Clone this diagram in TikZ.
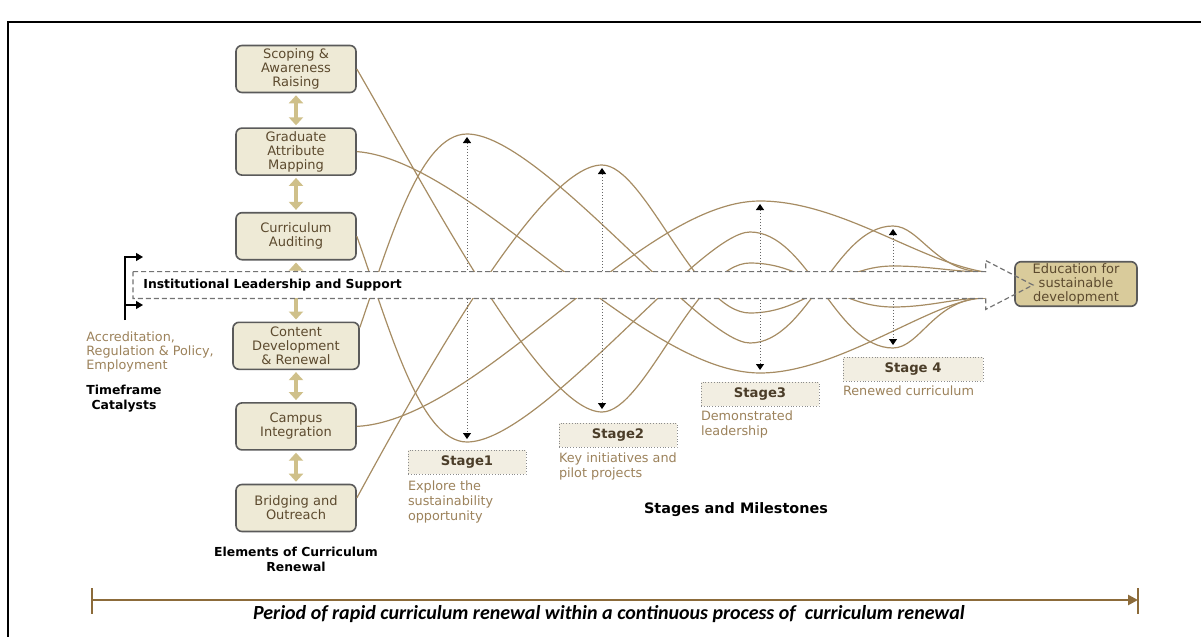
\documentclass[tikz,border=0pt]{standalone}
\usepackage{fontspec}
\setmainfont{DejaVu Sans}
\newfontfamily\capfont{Carlito}
\usetikzlibrary{positioning,arrows.meta}

\definecolor{boxfill}{HTML}{EEEAD6}
\definecolor{boxline}{HTML}{5A5A5A}
\definecolor{boxtext}{HTML}{5C4A2E}
\definecolor{wavecol}{HTML}{A68C63}
\definecolor{linkcol}{HTML}{CFC08A}
\definecolor{stagefill}{HTML}{F2EEE2}
\definecolor{stagetext}{HTML}{4B3D29}
\definecolor{captext}{HTML}{9C825B}
\definecolor{edufill}{HTML}{D9CB9B}
\definecolor{timecol}{HTML}{8C6B3A}

\begin{document}
\begin{tikzpicture}[x=0.5pt,y=-0.5pt,
elem/.style={draw=boxline,fill=boxfill,rounded corners=3pt,line width=0.8pt,
    minimum width=60pt,minimum height=23.5pt,align=center,inner sep=1pt,
    text=boxtext,font=\fontsize{6.5}{7}\selectfont},
link/.style={draw=linkcol,line width=2.4pt,shorten <=1pt,shorten >=1pt,
    {Triangle[width=7pt,length=4pt]}-{Triangle[width=7pt,length=4pt]}},
wave/.style={draw=wavecol,line width=0.6pt},
stagemark/.style={draw=black!60,densely dotted,line width=0.5pt,
    shorten <=1.5pt,shorten >=1.5pt,
    {Triangle[width=4pt,length=3pt,color=black]}-{Triangle[width=4pt,length=3pt,color=black]}},
stagebox/.style={draw=black!45,densely dotted,fill=stagefill,minimum width=59pt,
    minimum height=12pt,inner sep=1pt,text=stagetext,
    font=\bfseries\fontsize{6.6}{7}\selectfont},
bandline/.style={draw=black!55,dash pattern=on 2.5pt off 1.5pt,line width=0.6pt},
caption/.style={text=captext,align=left,inner sep=0pt,
    font=\fontsize{6.4}{7.3}\selectfont},
title/.style={align=center,inner sep=0pt,font=\bfseries\fontsize{6.2}{7.5}\selectfont},
catarrow/.style={draw=black,line width=0.6pt,-{Triangle[width=4pt,length=3.5pt]}},
timeline/.style={draw=timecol,line width=1.3pt,-{Triangle[width=5pt,length=5pt]}},
tick/.style={draw=timecol,line width=1pt}]

\useasboundingbox (0,0) rectangle (1201,637);
\draw[line width=1pt] (1201,22) -| (8,637);

% elements of curriculum renewal
\node (scop) [elem] at (296,69) {Scoping \&\\Awareness\\Raising};
\node (grad) [elem,below=17pt of scop] {Graduate\\Attribute\\Mapping};
\node (audit) [elem,below=18pt of grad] {Curriculum\\Auditing};
\node (cont) [elem,below=30.5pt of audit,minimum width=63pt] {Content\\Development\\\& Renewal};
\node (camp) [elem,below=16pt of cont] {Campus\\Integration};
\node (bridge) [elem,below=16.5pt of camp] {Bridging and\\Outreach};

\draw[link] (scop) -- (grad);
\draw[link] (grad) -- (audit);
\draw[link] (audit) -- (cont);
\draw[link] (cont) -- (camp);
\draw[link] (camp) -- (bridge);

\node (edu) [elem,fill=edufill,minimum width=61pt,minimum height=22pt] at (1076,284)
    {Education for\\sustainable\\development};

% turning points of the waves
\coordinate (s1top) at (467,134);
\coordinate (s1bot) at (467,442);
\coordinate (s2top) at (602,165);
\coordinate (s2bot) at (602,412);
\coordinate (s3top) at (760,201);
\coordinate (s3bot) at (760,373);
\coordinate (s3mtop) at (750,232);
\coordinate (s3mbot) at (750,343);
\coordinate (s3stop) at (750,263);
\coordinate (s3sbot) at (750,313);
\coordinate (s4top) at (893,226);
\coordinate (s4bot) at (893,348);
\coordinate (s4stop) at (893,266);
\coordinate (s4sbot) at (893,307);
\coordinate (endtop) at (985,272);
\coordinate (endbot) at (985,298);

\draw[wave] (scop.east) .. controls (427,190) and (542,412) .. (s2bot)
    .. controls (645,412) and (695,263) .. (s3stop)
    .. controls (808,263) and (835,307) .. (s4sbot)
    .. controls (930,307) and (955,298) .. (endbot);
\draw[wave] (grad.east) .. controls (470,160) and (640,373) .. (s3bot)
    .. controls (840,373) and (935,298) .. (endbot);
\draw[wave] (audit.east) .. controls (390,330) and (420,442) .. (s1bot)
    .. controls (540,442) and (700,232) .. (s3mtop)
    .. controls (808,232) and (835,348) .. (s4bot)
    .. controls (920,348) and (935,298) .. (endbot);
\draw[wave] ([yshift=-3pt]cont.north east) .. controls (390,240) and (420,134) .. (s1top)
    .. controls (540,134) and (700,343) .. (s3mbot)
    .. controls (808,343) and (835,226) .. (s4top)
    .. controls (920,226) and (935,272) .. (endtop);
\draw[wave] (camp.east) .. controls (480,420) and (640,201) .. (s3top)
    .. controls (840,201) and (920,262) .. (endtop);
\draw[wave] ([yshift=5pt]bridge.east) .. controls (428,367) and (542,165) .. (s2top)
    .. controls (645,165) and (695,313) .. (s3sbot)
    .. controls (808,313) and (835,266) .. (s4stop)
    .. controls (930,266) and (955,272) .. (endtop);

\draw[stagemark] (s1top) -- (s1bot);
\draw[stagemark] (s2top) -- (s2bot);
\draw[stagemark] (s3top) -- (s3bot);
\draw[stagemark] (s4top) -- (s4bot);

% leadership band
\node (band) [fill=white,inner sep=0pt,minimum width=426pt,minimum height=13pt,anchor=west] at (133,285) {};
\coordinate (tip) at (1033,285);
\draw[bandline] (band.north west) -- (band.north east) -- ++(0pt,5.5pt) -- (tip)
    -- ([yshift=-5.5pt]band.south east) -- (band.south east) -- (band.south west) -- cycle;
\node (bandlbl) [anchor=west,inner sep=0pt,font=\bfseries\fontsize{6.2}{7}\selectfont]
    at ([xshift=5pt]band.west) {Institutional Leadership and Support};

% stages
\node (stage1) [stagebox,below=4pt of s1bot] {Stage1};
\node (stage2) [stagebox,below=5.5pt of s2bot,xshift=8pt] {Stage2};
\node (stage3) [stagebox,below=4.5pt of s3bot] {Stage3};
\node (stage4) [stagebox,below=4.5pt of s4bot,xshift=10pt,minimum width=70pt] {Stage 4};
\node (cap1) [caption,anchor=north west] at ([yshift=-3pt]stage1.south west) {Explore the\\sustainability\\opportunity};
\node (cap2) [caption,anchor=north west] at ([yshift=-2.5pt]stage2.south west) {Key initiatives and\\pilot projects};
\node (cap3) [caption,anchor=north west] at ([yshift=-2pt]stage3.south west) {Demonstrated\\leadership};
\node (cap4) [caption,anchor=north west] at ([yshift=-2pt]stage4.south west) {Renewed curriculum};
\node (stglbl) [title,font=\bfseries\fontsize{7.2}{8}\selectfont] at (736,510) {Stages and Milestones};

% catalysts
\coordinate (catbot) at (125,320);
\coordinate (cattop) at (143,257);
\coordinate (catmid) at (143,305);
\draw[catarrow] (catbot) |- (cattop);
\draw[catarrow] (catbot |- catmid) -- (catmid);
\node (accr) [caption,anchor=north west,font=\fontsize{6.4}{7}\selectfont] at (86,331)
    {Accreditation,\\Regulation \& Policy,\\Employment};
\node (tfc) [title,below=6pt of accr.south west,anchor=north west] {Timeframe\\Catalysts};
\node (elemlbl) [title,below=7pt of bridge] {Elements of Curriculum\\Renewal};

% period
\coordinate (tlstart) at (92,600);
\coordinate (tlend) at (1138,600);
\draw[timeline] (tlstart) -- (tlend);
\draw[tick] ([yshift=6pt]tlstart) -- ([yshift=-7pt]tlstart);
\draw[tick] ([yshift=6pt]tlend) -- ([yshift=-7pt]tlend);
\node (tltext) [inner sep=0pt,font=\capfont\bfseries\itshape\fontsize{10}{11}\selectfont] at (609,614)
    {Period of rapid curriculum renewal within a continuous process of\ \ curriculum renewal};
\end{tikzpicture}
\end{document}
